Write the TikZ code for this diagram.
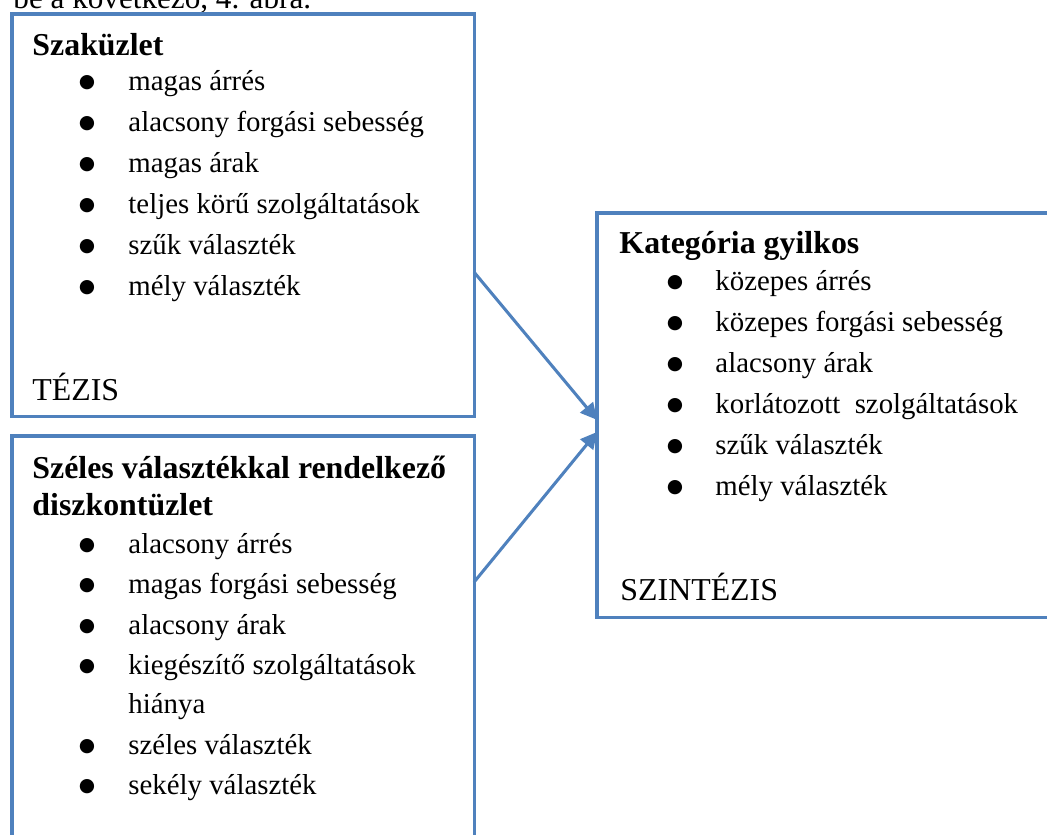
\documentclass[tikz,border=0pt]{standalone}
\usepackage{fontspec}
\setmainfont{Liberation Serif}
\newfontfamily\dotfont{DejaVu Sans}
\usetikzlibrary{arrows.meta,positioning,calc}
\definecolor{panelblue}{RGB}{79,129,189}

\begin{document}
\begin{tikzpicture}[
    x=0.015cm,
    y=-0.015cm,
    font=\fontsize{12.3}{16}\selectfont,
    panel/.style={draw=panelblue, line width=1.3pt, outer sep=0pt, inner sep=0pt, anchor=north west},
    head/.style={anchor=base west, inner sep=0pt, font=\fontsize{13.6}{17}\selectfont\bfseries},
    label/.style={anchor=base west, inner sep=0pt, font=\fontsize{13.6}{17}\selectfont},
    txt/.style={anchor=base west, inner sep=0pt},
    dot/.style={anchor=base, inner sep=0pt, font=\dotfont\fontsize{8}{8}\selectfont},
    link/.style={-{Triangle[length=7pt,width=7pt]}, draw=panelblue, line width=1.3pt}
]
    \useasboundingbox (0,0) rectangle (1047,834);

    % Running text above the figure
    \node[txt, font=\fontsize{13.3}{17}\selectfont] (intro) at (13,8) {be a következő, 4. ábra.};

    % Boxes
    \node[panel, minimum width=6.93cm, minimum height=6.03cm] (tezis) at (12,14) {};
    \node[panel, minimum width=6.93cm, minimum height=6.21cm] (disz) at (12,436) {};
    \node[panel, minimum width=6.945cm, minimum height=6.06cm] (szint) at (597,213) {};

    % Thesis: specialty store
    \node[head] (tezis-h) at (32,55) {Szaküzlet};
    \foreach \entry [count=\i] in {magas árrés, alacsony forgási sebesség, magas árak,
        teljes körű szolgáltatások, szűk választék, mély választék} {
        \node[dot] (tezis-b\i) at (87,46+41*\i) {●};
        \node[txt] (tezis-t\i) at (128,49+41*\i) {\entry};
    }
    \node[label] (tezis-l) at (32,400) {TÉZIS};

    % Antithesis: discount store
    \node[head] (disz-h1) at (32,478) {Széles választékkal rendelkező};
    \node[head] (disz-h2) at (32,515) {diszkontüzlet};
    \foreach \entry/\y [count=\i] in {alacsony árrés/553, magas forgási sebesség/593,
        alacsony árak/634, kiegészítő szolgáltatások/674, széles választék/754,
        sekély választék/794} {
        \node[dot] (disz-b\i) at (87,\y-3) {●};
        \node[txt] (disz-t\i) at (128,\y) {\entry};
    }
    \node[txt] (disz-t4b) at (128,713) {hiánya};

    % Synthesis: category killer
    \node[head] (szint-h) at (619,253) {Kategória gyilkos};
    \foreach \entry [count=\i] in {közepes árrés, közepes forgási sebesség, alacsony árak,
        korlátozott~ szolgáltatások, szűk választék, mély választék} {
        \node[dot] (szint-b\i) at (675,246+41*\i) {●};
        \node[txt] (szint-t\i) at (715,249+41*\i) {\entry};
    }
    \node[label] (szint-l) at (620,600) {SZINTÉZIS};

    % Arrows
    \coordinate (out1) at ($(tezis.south east)!0.358!(tezis.north east)$);
    \coordinate (out2) at ($(disz.north east)!0.353!(disz.south east)$);
    \coordinate (in1) at ($(szint.north west)!0.512!(szint.south west)$);
    \coordinate (in2) at ($(szint.north west)!0.542!(szint.south west)$);
    \draw[link] (out1) -- (in1);
    \draw[link] (out2) -- (in2);
\end{tikzpicture}
\end{document}
